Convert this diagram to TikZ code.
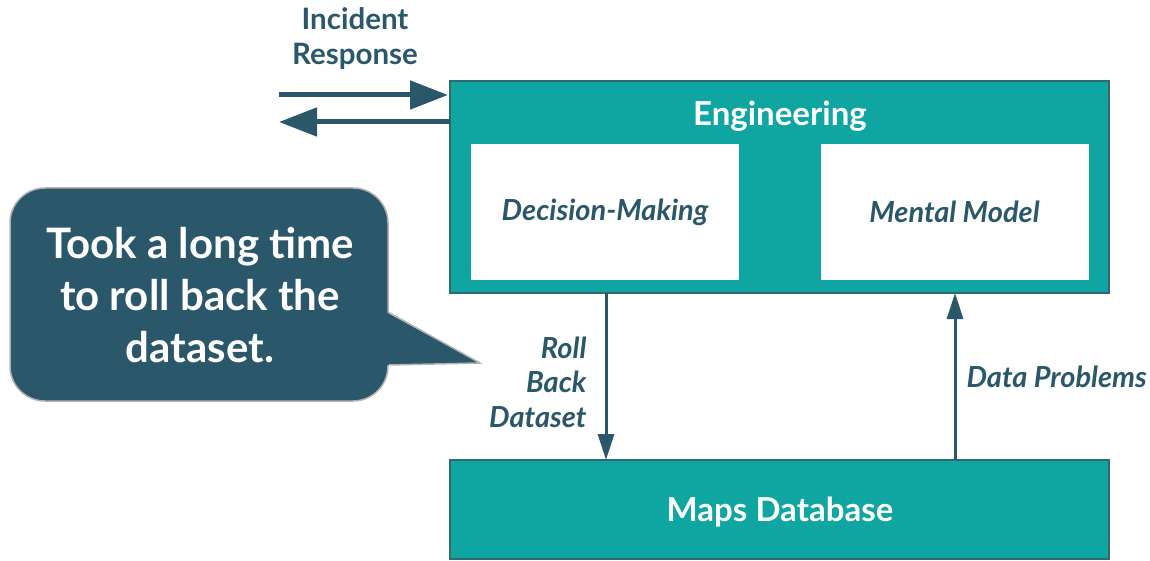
\documentclass[tikz,border=0pt]{standalone}
\usepackage{fontspec}
\setmainfont{Lato}
\usetikzlibrary{arrows.meta}
\definecolor{tealbox}{HTML}{0FA5A0}
\definecolor{darkblue}{HTML}{2A5769}
\definecolor{boxedge}{HTML}{2F6A72}
\tikzset{
  outerbox/.style={draw=boxedge, line width=1.5pt, fill=tealbox},
  innerbox/.style={draw=none, fill=white},
  titletext/.style={text=white, font=\bfseries\fontsize{33}{38}\selectfont},
  innertext/.style={text=darkblue, font=\bfseries\itshape\fontsize{29}{34}\selectfont},
  labeltext/.style={text=darkblue, font=\bfseries\itshape\fontsize{29}{34.5}\selectfont},
  irtext/.style={text=darkblue, font=\bfseries\fontsize{29.5}{35}\selectfont, align=center},
  flow/.style={draw=darkblue, line width=3pt, -{Triangle[length=26pt,width=16pt]}},
  bigflow/.style={draw=darkblue, line width=5pt, -{Triangle[length=38pt,width=28pt]}},
  bubble/.style={fill=darkblue, draw=gray!60, line width=1.5pt},
  bubbletext/.style={text=white, font=\bfseries\fontsize{42}{52}\selectfont, align=center}
}
\begin{document}
\begin{tikzpicture}[x=1pt,y=-1pt]
\useasboundingbox (0,0) rectangle (1150,561);
% Engineering box
\node[outerbox, minimum width=659pt, minimum height=212pt, inner sep=0pt] (eng) at (779.5,187) {};
\node[titletext] (engt) at (780,116) {Engineering};
\node[innerbox, minimum width=268pt, minimum height=136pt, inner sep=0pt] (dm) at (605,212) {};
\node[innertext] (dmt) at (dm.center) {Decision-Making};
\node[innerbox, minimum width=268pt, minimum height=136pt, inner sep=0pt] (mm) at (954.5,212) {};
\node[innertext] (mmt) at (mm.center) {Mental Model};
% Maps Database
\node[outerbox, minimum width=659pt, minimum height=99pt, inner sep=0pt] (db) at (779.5,509.5) {};
\node[titletext] (dbt) at (780,512) {Maps Database};
% vertical arrows
\coordinate (rbTop) at (606,293);
\coordinate (rbBot) at (606,460);
\coordinate (dpBot) at (955,460);
\coordinate (dpTop) at (955,293);
\draw[flow] (rbTop) -- (rbBot);
\draw[flow] (dpBot) -- (dpTop);
\node[labeltext, anchor=east, align=right] (rbl) at (590,382) {Roll\\Back\\Dataset};
\node[labeltext, anchor=west] (dpl) at (963,377) {Data Problems};
% incident response arrows
\coordinate (irA) at (279,95);
\coordinate (irB) at (448,95);
\coordinate (irC) at (450,122);
\coordinate (irD) at (279,122);
\draw[bigflow] (irA) -- (irB);
\draw[bigflow] (irC) -- (irD);
\node[irtext] (irt) at (355,38.5) {Incident\\Response};
% callout bubble
\node[bubble, rounded corners=35pt, minimum width=378pt, minimum height=213pt, inner sep=0pt] (bub) at (199,294.5) {};
\coordinate (tailA) at (386,312);
\coordinate (tailTip) at (480,363);
\coordinate (tailB) at (386,365);
\fill[darkblue] (tailA) -- (tailTip) -- (tailB) -- cycle;
\draw[gray!60, line width=1.5pt, line join=miter] (388.75,312.5) -- (tailTip) -- (388.75,365);
\node[bubbletext] (bt) at (200,295) {Took a long time\\to roll back the\\dataset.};
\end{tikzpicture}
\end{document}
